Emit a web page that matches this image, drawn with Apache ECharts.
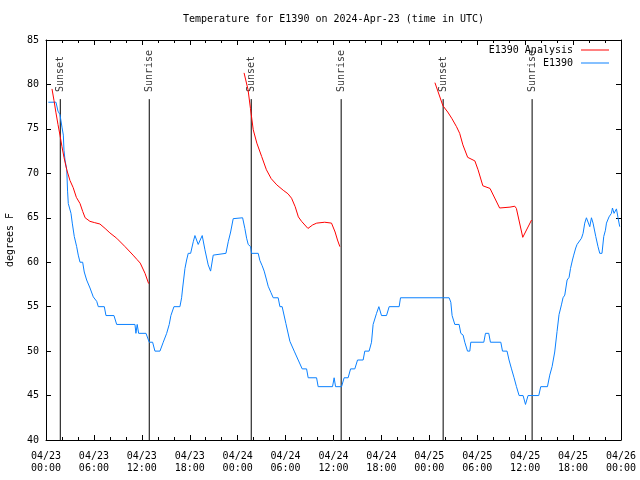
<!DOCTYPE html>
<html><head><meta charset="utf-8">
<script src="https://cdn.jsdelivr.net/npm/echarts@6/dist/echarts.min.js"></script>
<style>html,body{margin:0;padding:0;background:#fff}#c{width:640px;height:480px}</style>
</head><body><div id="c"></div>
<script>
const FONT = '"DejaVu Sans Mono", "Liberation Mono", monospace';
const titleText = 'Temperature for E1390 on 2024-Apr-23 (time in UTC)';
const yAxisName = 'degrees F';
// hours since 04/23 00:00 UTC
const xTickLabels = ['04/23\n00:00','04/23\n06:00','04/23\n12:00','04/23\n18:00',
  '04/24\n00:00','04/24\n06:00','04/24\n12:00','04/24\n18:00',
  '04/25\n00:00','04/25\n06:00','04/25\n12:00','04/25\n18:00','04/26\n00:00'];
const seriesNames = ['E1390 Analysis', 'E1390'];

const analysisNight1 = [[0.75,79.5],[1.0,78.2],[1.25,76.8],[1.5,75.5],[1.75,74.3],[2.0,73.0],[2.25,71.8],[2.6,70.4],[3.0,69.2],[3.4,68.4],[3.8,67.3],[4.26,66.6],[4.6,65.7],[4.9,65.0],[5.5,64.6],[6.1,64.45],[6.75,64.3],[7.4,63.8],[8.0,63.3],[8.85,62.7],[9.9,61.75],[10.9,60.8],[11.4,60.3],[11.8,59.9],[12.4,58.75],[12.85,57.6]];
const analysisNight2 = [[24.8,81.3],[25.3,79.4],[25.6,77.3],[25.95,74.9],[26.4,73.4],[27.0,71.9],[27.6,70.4],[28.2,69.4],[28.9,68.7],[29.7,68.1],[30.3,67.7],[30.75,67.2],[31.2,66.25],[31.6,65.1],[32.0,64.6],[32.8,63.8],[33.4,64.2],[33.9,64.4],[34.9,64.5],[35.75,64.4],[36.2,63.4],[36.5,62.5],[36.8,61.75]];
const analysisNight3 = [[48.7,80.2],[49.7,77.6],[50.3,76.9],[50.8,76.2],[51.4,75.25],[51.8,74.5],[52.2,73.2],[52.8,71.8],[53.7,71.4],[54.1,70.4],[54.7,68.6],[55.6,68.3],[55.8,68.1],[56.8,66.1],[58.1,66.2],[58.7,66.3],[58.9,66.05],[59.7,62.8],[60.8,64.75]];

const stationObs = [[0.29,78],[1.25,78],[1.5,77],[1.75,76.6],[2.0,75.2],[2.17,74.3],[2.25,72.6],[2.38,71.5],[2.6,70.4],[2.7,68],[2.79,66.6],[3.13,65.5],[3.29,64.4],[3.54,62.9],[3.84,61.75],[4.04,60.8],[4.26,60],[4.59,60],[4.79,58.9],[5.09,58],[5.51,57.1],[5.92,56.1],[6.35,55.6],[6.55,55],[7.3,55],[7.51,54],[8.51,54],[8.85,53],[11.14,53],[11.26,52],[11.42,53],[11.6,52],[12.52,52],[12.93,51],[13.35,51],[13.64,50],[14.27,50],[14.68,51],[14.89,51],[15.11,52],[15.43,53],[15.64,54],[16.02,55],[16.77,55],[16.98,56],[17.11,57.1],[17.4,59.3],[17.61,60.25],[17.81,61],[18.11,61],[18.44,62.3],[18.65,63],[18.86,63],[19.06,62],[19.27,62],[19.56,63],[19.9,61.4],[20.31,59.7],[20.61,59],[20.94,60.8],[21.15,61],[22.53,61],[22.82,62.3],[23.12,63.4],[23.44,64.9],[23.57,65],[24.62,65],[24.9,63.8],[25.12,62.7],[25.32,62],[25.62,61.75],[25.74,61],[26.57,61],[26.78,60.2],[27.07,59.6],[27.32,59],[27.62,58],[27.82,57.3],[28.16,56.6],[28.45,56],[29.07,56],[29.29,55],[29.57,55],[30.04,53.1],[30.54,51.1],[31.08,50],[31.58,49],[32.08,48],[32.63,48],[32.83,47],[33.88,47],[34.08,46],[35.88,46],[36.08,47],[36.26,46],[37.01,46],[37.33,47],[37.83,47],[38.14,48],[38.67,48],[39.01,49],[39.71,49],[39.92,50],[40.46,50],[40.76,51],[40.96,53],[41.39,54.25],[41.68,55],[42.01,54],[42.64,54],[42.97,55],[44.22,55],[44.39,56],[50.48,56],[50.69,55.5],[50.85,54],[51.19,53],[51.73,53],[51.94,52],[52.23,51.8],[52.44,51],[52.78,50],[53.07,50],[53.19,51],[54.82,51],[55.03,52],[55.44,52],[55.65,51],[56.95,51],[57.16,50],[57.73,50],[57.98,49],[58.29,48],[58.61,47],[58.91,46],[59.24,45],[59.74,45],[60.04,44],[60.36,45],[61.7,45],[61.95,46],[62.79,46],[63.08,47.3],[63.37,48.25],[63.7,49.9],[63.99,52.2],[64.24,54.1],[64.54,55.2],[64.74,56],[64.96,56.3],[65.25,58],[65.5,58.3],[65.68,59.3],[65.92,60.25],[66.08,60.8],[66.33,61.6],[66.5,62],[66.75,62.1],[67.05,62.7],[67.25,63.25],[67.46,64.4],[67.67,65],[67.87,65],[68.09,64],[68.3,65],[68.5,64.4],[68.84,62.9],[69.12,61.75],[69.34,61],[69.62,61],[69.84,62.9],[70.05,63.6],[70.18,64.4],[70.5,65.1],[70.8,65.5],[70.93,66.1],[71.13,65.5],[71.43,66],[71.63,65],[71.84,64]];

const sunTimes = [1.79, 12.93, 25.7, 36.96, 49.73, 60.87];
const sunLabels = ['Sunset','Sunrise','Sunset','Sunrise','Sunset','Sunrise'];
const sunLineTop = 78.35;
const sunLabelBase = 79.15;

const analysisData = [].concat(analysisNight1, [[18, null]], analysisNight2, [[42, null]], analysisNight3);

const axisCommon = {
  axisLine: {show: true, onZero: false, lineStyle: {color: '#000', width: 1}},
  axisTick: {show: true, inside: true, length: 5, lineStyle: {color: '#000', width: 1}},
  splitLine: {show: false}
};

const sunSeries = sunTimes.map(t => ({
  type: 'line', data: [[t, 40], [t, sunLineTop]], symbol: 'none', silent: true,
  lineStyle: {color: '#000', width: 1}, z: 1, animation: false
}));

const option = {
  animation: false,
  title: {text: titleText, left: 183, top: 14, padding: 0,
    textStyle: {fontFamily: FONT, fontSize: 10, fontWeight: 'normal', color: '#000'}},
  legend: {
    data: seriesNames, orient: 'vertical', right: 31, top: 44, align: 'right', padding: 0,
    itemWidth: 28, itemHeight: 1, itemGap: 1, icon: 'rect',
    textStyle: {fontFamily: FONT, fontSize: 10, color: '#000', lineHeight: 12, padding: [0, 3, 0, 0]}
  },
  grid: {left: 46, right: 19, top: 40, bottom: 40, containLabel: false, outerBoundsMode: 'none'},
  xAxis: [
    Object.assign({}, axisCommon, {type: 'value', min: 0, max: 72, interval: 6, position: 'bottom',
      minorTick: {show: true, splitNumber: 3, length: 3, lineStyle: {color: '#000'}},
      axisLabel: {formatter: v => xTickLabels[Math.round(v / 6)], fontFamily: FONT, fontSize: 10,
        color: '#000', lineHeight: 12, margin: 10, showMinLabel: true, showMaxLabel: true}}),
    Object.assign({}, axisCommon, {type: 'value', min: 0, max: 72, interval: 6, position: 'top',
      minorTick: {show: true, splitNumber: 3, length: 3, lineStyle: {color: '#000'}},
      axisLabel: {show: false}})
  ],
  yAxis: [
    Object.assign({}, axisCommon, {type: 'value', min: 40, max: 85, interval: 5, position: 'left',
      name: yAxisName, nameLocation: 'middle', nameGap: 31,
      nameTextStyle: {fontFamily: FONT, fontSize: 10, color: '#000'},
      axisLabel: {fontFamily: FONT, fontSize: 10, color: '#000', margin: 7}}),
    Object.assign({}, axisCommon, {type: 'value', min: 40, max: 85, interval: 5, position: 'right',
      axisLabel: {show: false}})
  ],
  series: [
    {name: seriesNames[0], type: 'line', data: analysisData, symbol: 'none', connectNulls: false,
      lineStyle: {color: '#ff0000', width: 1}, itemStyle: {color: '#ff0000'}, z: 3},
    {name: seriesNames[1], type: 'line', data: stationObs, symbol: 'none',
      lineStyle: {color: '#0a80ff', width: 1}, itemStyle: {color: '#0a80ff'}, z: 2},
    {type: 'scatter', symbolSize: 0, silent: true,
      data: sunTimes.map((t, i) => ({value: [t, sunLabelBase], name: sunLabels[i]})),
      label: {show: true, formatter: '{b}', position: 'inside', rotate: 90, align: 'left',
        verticalAlign: 'middle', fontFamily: FONT, fontSize: 10, color: '#000'}}
  ].concat(sunSeries)
};
const chart = echarts.init(document.getElementById('c'), null, {renderer: 'canvas'});
chart.setOption(option);
</script></body></html>
